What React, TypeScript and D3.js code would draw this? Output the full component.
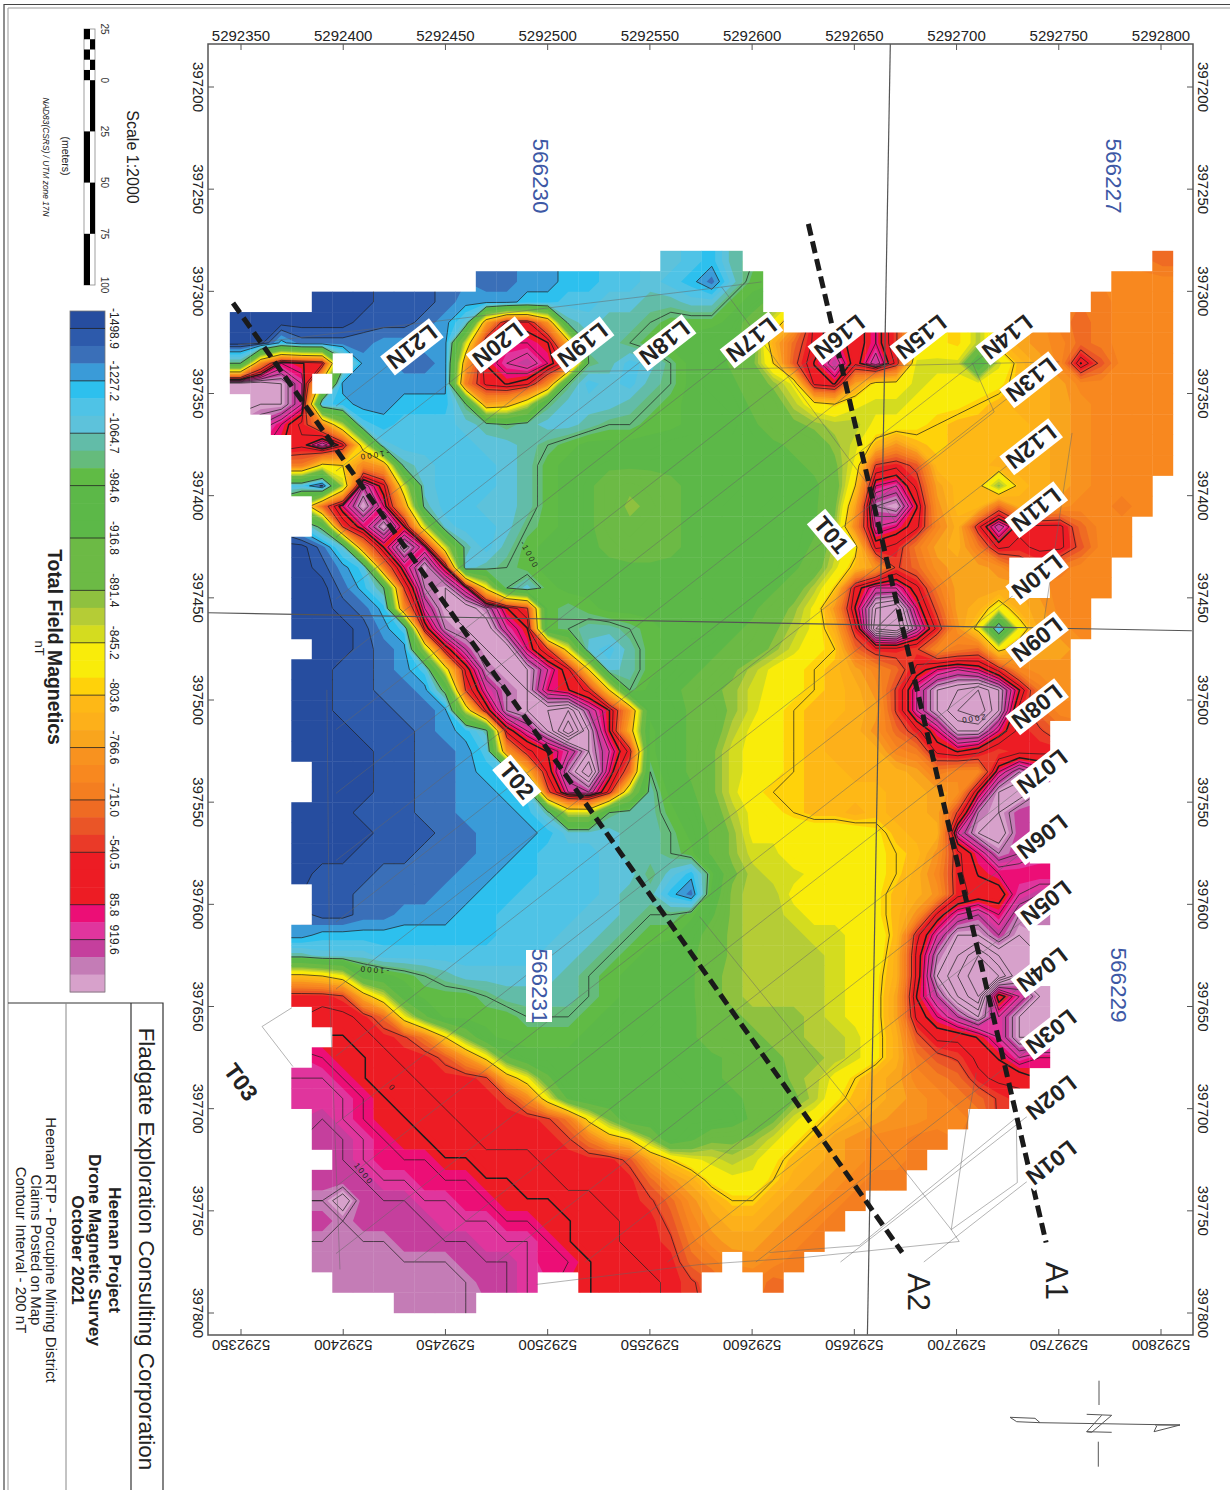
import React, { useMemo } from "react";
import * as d3 from "d3";

const W = 1230;
const H = 1490;
const FONT = "'Liberation Sans', Arial, sans-serif";

// Colour band index per survey cell: 0-9, a-z, A-H = 0..43. "." = no data.
const LEVEL_CODES = "0123456789abcdefghijklmnopqrstuvwxyzABCDEFGHIJ";
const rowStart = [21,12,4,0,0,0,0,1,2,3,3,3,4,4,3,3,3,3,3,4,3,3,3,3,3,4,4,3,3,3,3,4,4,3,3,3,3,4,5,4,3,3,4,4,5,4,4,4,4,4,5,8];
const rowCells = [
  "6547....................s",
  "22334455654269.................qqq",
  "000111233344556677669a................rqqq",
  "00000011123" + "6owwp76778999afj" + "..............srqqq",
  "0042222" + "3333" + "iwyyxn" + "778" + "9" + "aa" + "bce" + "n" + "swywyu" + "lklhmopq" + "srqqq",
  "8qyxw." + "33223" + "oxzAyu" + "87568" + "abdfl" + "txAwAv" + "iii9imoq" + "xtqqq",
  "DDCz." + "333333" + "rwxwq" + "856578" + "abcegj" + "wxokk" + "ijjjkmno" + "qqqqq",
  "CCz5433444" + "8oni8" + "66678" + "9aabdehkljii" + "jkklmnnopqqqq",
  "yvqh5455" + "567876678899" + "aaacefghhjj" + "klmmmmnopqqqq",
  "wAwj6" + "555566789" + "aaaa" + "bbbbb" + "cdegimpmlmmmmnopqqqq",
  "rklqo" + "76555679ab" + "ccccccc" + "bbcdfjuvt" + "mmmnnnopqqqq",
  "51hAwi6" + "555679acefedcccbbbcelyzvommgmnopqqq",
  "syCyo75566" + "79acegfdcc" + "bbabcfoBCx" + "pmmsnopqqr" + "q",
  "9uyCxi6556" + "89acefedcc" + "baabcgqzyw" + "qnvAwwwsqq",
  "026qxCyi75" + "79abcdeedc" + "cbaabdhkwv" + "ronrwvwwtq" + "q",
  "0135ryCx67" + "89abbccccc" + "cbaaceimpu" + "spoop..rqq",
  "00248uBCyk" + "869aabbbbb" + "bbbcehlwzz" + "wrooo..qqq",
  "00124qzCDB" + "xu989aaaaa" + "abcegjpxDE" + "ytonjnoqq",
  "000135wBCD" + "zx98778" + "9aa" + "acdfhjnvEF" + "Avpk4jopq",
  "00123hwACD" + "yuj6579abc" + "degiklsvvu" + "qrsknoo",
  "0011235jwB" + "CCzwl679ac" + "dfhjklmoqs" + "wyzyvqpp",
  "00112239uz" + "BCyxvl8acd" + "fgijklmnpu" + "zCDECxrp",
  "00111223iw" + "BCDEAxpabd" + "egiklmmnou" + "zCEFCvsq",
  "0001112347" + "wzCGCxn9bd" + "ehjklmnnps" + "vyCCyvu",
  "0000112235" + "pvxzCzv9bd" + "fijklmnnnq" + "rwxwuvv",
  "0001122345" + "nwBEys8bdf" + "ijklmmnnno" + "rqqyBz",
  "0001122334" + "5tzAvh7acf" + "ikllmmmmnn" + "opxCD",
  "0001112233" + "347ii8779b" + "ehjklmmnmn" + "nouBCA",
  "0000111223" + "334666778a" + "dgjjjjjjkm" + "nnzCDA",
  "0001112223" + "3455567789" + "dgiikjjjkl" + "mpvyBA",
  "0111222233" + "4455566864" + "9fhiijjjkl" + "nqvxyyy",
  "1122223344" + "555567742a" + "ghhjjjjkmn" + "pvwwzA",
  "1122333445" + "555667889c" + "ghhijjjkmp" + "wzAyBB",
  "3444444444" + "555667899b" + "eghhhiijjm" + "vzCCAC",
  "7666555555" + "5566789abc" + "eghhhhijjn" + "wBDFDC",
  "mljba98766" + "666789abcc" + "fghhhhijkn" + "wCEGFC",
  "vvunib9998" + "777789abcc" + "fghhhhijko" + "xADFwzC",
  "wwvsjd9999" + "8889abbcce" + "fggghijkow" + "yACzCC",
  "xwvurlfa9" + "999abbccce" + "ffgghhiknt" + "wwxzCC",
  "yxxwvvtpkd" + "aaaabbcccc" + "defgghiknr" + "tuwxzy",
  "zzyxwwvvvu" + "njdaaabbbc" + "cddeghjlno" + "qrsvww",
  "zzzyxwwvvv" + "uqjcaaaabb" + "bcdefhkmno" + "pqrsu",
  "Azyxxwwvvv" + "vurkfaaaaa" + "bdfikmnopp" + "qq",
  "AAzyxxwwvv" + "vvurnlgacf" + "fgikmopqqr" + "r",
  "Azyyyxxww" + "wvvvvtolji" + "hikmnopqqr",
  "AAAzzyyyxx" + "wwvvvvspnk" + "jjlnopqrr",
  "BDAAAzzyyx" + "xxwwvvuspn" + "llnopqr",
  "ABAAAAzzzy" + "yxxwwvvtqo" + "nnopqr",
  "BBBBAAAAzz" + "zyxwwvvurp" + "oopqr",
  "BBBBBBBAAA" + "zyyxwwvvsr" + ".pqr",
  "BBBBBBBAAz..xwwwvu...s",
  "BBBB",
];
const GRID_COLS = 46;
const GRID_ROWS = 52;

const bandColors = [
  "#264d9f","#2d5aab","#3a6fb8","#3a9bd8","#2dc0ee","#4fc3e6","#5dc2db","#62bca8","#65bb7c","#60bb45",
  "#5cb848","#5cb848","#5cb848","#6cba45","#6cba45","#6cba45","#8fc13f","#b5cc36","#d4dc1f","#f9ec0a",
  "#f9ec0a","#ffd20a","#feb816","#fdb01a","#f9a51d","#f8921f","#f8881f","#f47e20","#ef6b23","#ea5527",
  "#ea3a28","#ed1c24","#ed1c24","#ed1c24","#ec0e76","#e0359d","#c53f9d","#c47cb6","#d7a1cb",
];
const legendLabels = ["-1498.9","-1227.2","-1064.7","-984.6","-916.8","-891.4","-845.2","-803.6","-766.6","-715.0","-540.5","85.8","919.6"];
const legendLabelBands = [1,4,7,10,13,16,19,22,25,28,31,34,36];
const contourLevels = [0.5,1.5,3.5,8,21,29.7,31.5,32.9,34,35,36,37,38,39,40,41,42,43];
const boldLevels = [32.9];

const northingTicks = [5292350,5292400,5292450,5292500,5292550,5292600,5292650,5292700,5292750,5292800];
const eastingTicks = [397200,397250,397300,397350,397400,397450,397500,397550,397600,397650,397700,397750,397800];

// Survey line labels, in metres: northing-5292000, easting-397000
const lineNames = ["L01N","L02N","L03N","L04N","L05N","L06N","L07N","L08N","L09N","L10N","L11N","L12N","L13N","L14N","L15N","L16N","L17N","L18N","L19N","L20N","L21N"];
const lineNorth = [746.3,746.3,746.3,741.9,743.8,741.9,741.9,739.4,739.4,739.4,739,736.5,736.5,724.8,682.7,642.7,599.7,557.2,517.1,475.6,433.6];
const lineEast = [726.4,694.6,662.3,632,599.2,566.9,535.1,503.3,470.5,439.7,406.9,376.1,343.3,322.3,322.3,322.3,323.8,325.2,326.2,326.2,327.2];

const tieNames = ["T01","T02"];
const tieNorth = [638.8,484.9];
const tieEast = [419.2,539.5];

const profileA1 = [[627.5,267],[743.8,765.5]];
const profileA2 = [[346.1,305.7],[673.4,770.4]];
const claimLines = [
  [[667.6,179],[656.4,810.5]],
  [[333.9,457.3],[815.1,466.1]],
];
const outlines = [
  [[729.2,704.4],[652.4,767],[608.5,770.4]],
  [[729.2,704.4],[729.7,736.2],[697.4,759.2],[701.3,765],[624.6,772.9],[574.3,776.3],[494.6,786]],
  [[675.4,731.3],[697.4,759.2],[704.7,710.2],[709.6,682.4]],
  [[374.9,650.6],[360.3,659.8],[375.4,679.4]],
  [[348.5,326.2],[574.3,299.3],[604.6,295.4]],
  [[460.4,339.9],[574.3,338.4],[750.2,334.5]],
  [[392,495],[393.5,646.6],[398.4,778.7]],
  [[585,297.8],[670.5,413.3]],
  [[574.3,606],[675.4,731.3]],
  [[756.5,369.3],[741.9,467.1]],
  [[707.7,335],[718.4,359],[680.3,388.8]],
];
const contourNotes = [
  { text: "-1000", n: 415, e: 380, rot: 172 },
  { text: "-1000", n: 491, e: 429, rot: 62 },
  { text: "-1000", n: 415, e: 632, rot: 184 },
  { text: "1000", n: 410, e: 732, rot: 52 },
  { text: "2000", n: 708, e: 509, rot: 172 },
  { text: "0", n: 424, e: 690, rot: 50 },
];

const scaleMarks = [0, 25, 50, 75, 100];

const xScale = d3.scaleLinear().domain([5292350, 5292800]).range([241, 1161]);
const yScale = d3.scaleLinear().domain([397200, 397800]).range([87, 1313]);
const mx = (n: number) => xScale(5292000 + n);
const my = (e: number) => yScale(397000 + e);
const gridX = d3.scaleLinear().domain([0, GRID_COLS]).range([230, 1173]);
const gridY = d3.scaleLinear().domain([0, GRID_ROWS]).range([251, 1313]);
const legendY = d3.scaleLinear().domain([0, bandColors.length]).range([311, 992]);
const barY = d3.scaleLinear().domain([-25, 100]).range([29, 285]);

function buildGrid() {
  const pad = 1;
  const w = GRID_COLS + pad * 2;
  const h = GRID_ROWS + pad * 2;
  let vals: (number | null)[] = new Array(w * h).fill(null);
  const cells: [number, number][] = [];
  rowCells.forEach((str, r) => {
    for (let k = 0; k < str.length; k++) {
      const c = rowStart[r] + k;
      if (str[k] === "." || c >= GRID_COLS) continue;
      vals[(r + pad) * w + c + pad] = LEVEL_CODES.indexOf(str[k]);
      cells.push([c, r]);
    }
  });
  // no-data cells borrow their neighbours' value; they stay hidden behind the clip
  let missing = true;
  while (missing) {
    missing = false;
    const next = vals.slice();
    for (let j = 0; j < h; j++)
      for (let i = 0; i < w; i++) {
        if (vals[j * w + i] !== null) continue;
        const around: number[] = [];
        [[1, 0], [-1, 0], [0, 1], [0, -1]].forEach(([a, b]) => {
          const x = i + a, y = j + b;
          if (x >= 0 && x < w && y >= 0 && y < h && vals[y * w + x] !== null) around.push(vals[y * w + x] as number);
        });
        if (around.length) next[j * w + i] = d3.mean(around) as number;
        else missing = true;
      }
    vals = next;
  }
  return { values: vals as number[], w, h, pad, cells };
}

function Rot({ x, y, size, children, bold, fill = "#222", rot = 90, italic, style }: any) {
  return (
    <text
      x={x}
      y={y}
      transform={`rotate(${rot} ${x} ${y})`}
      textAnchor="middle"
      dominantBaseline="central"
      fontSize={size}
      fontWeight={bold ? 700 : 400}
      fontStyle={italic ? "italic" : "normal"}
      fill={fill}
      style={style}
    >
      {children}
    </text>
  );
}

export default function App() {
  const { fills, lines, cells } = useMemo(() => {
    const { values, w, h, pad, cells } = buildGrid();
    const path = d3.geoPath(
      d3.geoTransform({
        point(this: any, x: number, y: number) {
          this.stream.point(gridX(x - pad), gridY(y - pad));
        },
      })
    );
    const gen = d3.contours().size([w, h]).smooth(true);
    const fills = bandColors.map((c, k) => ({
      color: c,
      d: path(gen.contour(values, k === 0 ? -1 : k - 0.5) as any) || "",
    }));
    const lines = contourLevels.map((lv) => ({
      level: lv,
      d: path(gen.contour(values, lv) as any) || "",
    }));
    return { fills, lines, cells };
  }, []);

  const line = d3.line<number[]>().x((p) => mx(p[0])).y((p) => my(p[1]));
  const FLIGHT_SLOPE = 0.78;
  const flightEnd = (x0: number, y0: number) => {
    let x = 336;
    let y = y0 + FLIGHT_SLOPE * (x0 - x);
    if (y > 1262) {
      y = 1262;
      x = x0 - (y - y0) / FLIGHT_SLOPE;
    }
    return [x, y];
  };

  return (
    <svg
      width={W}
      height={H}
      viewBox={`0 0 ${W} ${H}`}
      style={{ position: "absolute", left: 0, top: 0, background: "#fff", fontFamily: FONT }}
    >
      <defs>
        <clipPath id="surveyCells">
          {cells.map(([c, r], i) => (
            <rect key={i} x={gridX(c) - 0.2} y={gridY(r) - 0.2} width={gridX(1) - gridX(0) + 0.4} height={gridY(1) - gridY(0) + 0.4} />
          ))}
        </clipPath>
      </defs>

      {/* page frame */}
      <path d="M1230 4.5 H4 V1490" fill="none" stroke="#444" strokeWidth={1.2} />
      <path d="M1230 8 H8 V1490" fill="none" stroke="#999" strokeWidth={1} />

      {/* map */}
      <g clipPath="url(#surveyCells)">
        {fills.map((f, i) => (
          <path key={i} d={f.d} fill={f.color} />
        ))}
        {lines.map((l, i) => (
          <path key={i} d={l.d} fill="none" stroke="#1c1c1c" strokeWidth={boldLevels.includes(l.level) ? 1.5 : 0.7} strokeLinejoin="round" />
        ))}
      </g>

      {/* flight lines */}
      <g stroke="#666" strokeOpacity={0.55} strokeWidth={0.9} fill="none">
        {lineNames.map((n, i) => {
          const x0 = mx(lineNorth[i]);
          const y0 = my(lineEast[i]);
          const [x1, y1] = flightEnd(x0, y0);
          return <line key={n} x1={x0} y1={y0} x2={x1} y2={y1} />;
        })}
        {outlines.map((o, i) => (
          <path key={i} d={line(o) || ""} />
        ))}
      </g>

      {/* claim lines */}
      <g stroke="#555" strokeWidth={1.2} fill="none">
        {claimLines.map((o, i) => (
          <path key={i} d={line(o) || ""} />
        ))}
      </g>

      {/* contour notes */}
      {contourNotes.map((c, i) => (
        <Rot key={i} x={mx(c.n)} y={my(c.e)} size={8} rot={c.rot} fill="#222" style={{ letterSpacing: 2 }}>
          {c.text}
        </Rot>
      ))}

      {/* profiles */}
      <g stroke="#1a1a1a" strokeWidth={5} strokeDasharray="12 6" fill="none">
        <path d={line(profileA1) || ""} />
        <path d={line(profileA2) || ""} />
      </g>

      {/* line labels */}
      {lineNames.map((n, i) => {
        const x0 = mx(lineNorth[i]);
        const y0 = my(lineEast[i]);
        return (
          <g key={n} transform={`translate(${x0} ${y0}) rotate(142)`}>
            <rect x={-31} y={-12} width={62} height={24} fill="#fff" />
            <text textAnchor="middle" dominantBaseline="central" fontSize={23} fontWeight={700} fill="#222">
              {n}
            </text>
          </g>
        );
      })}
      {tieNames.map((n, i) => (
        <g key={n} transform={`translate(${mx(tieNorth[i])} ${my(tieEast[i])}) rotate(50)`}>
          <rect x={-24} y={-12} width={48} height={24} fill="#fff" />
          <text textAnchor="middle" dominantBaseline="central" fontSize={23} fontWeight={700} fill="#222">
            {n}
          </text>
        </g>
      ))}
      <Rot x={241} y={1082} size={23} bold rot={54}>T03</Rot>
      <Rot x={1056} y={1281} size={31}>A1</Rot>
      <Rot x={918} y={1292} size={31}>A2</Rot>

      <Rot x={540} y={176} size={22.5} fill="#3d58a5">566230</Rot>
      <Rot x={1113} y={176} size={22.5} fill="#3d58a5">566227</Rot>
      <Rot x={1118} y={985} size={22.5} fill="#3d58a5">566229</Rot>
      <rect x={526} y={950} width={26} height={72} fill="#fff" />
      <Rot x={539} y={986} size={22.5} fill="#3d58a5">566231</Rot>

      {/* axes */}
      <rect x={208} y={44} width={985} height={1291} fill="none" stroke="#555" strokeWidth={1.5} />
      <g stroke="#555" strokeWidth={1}>
        {northingTicks.map((t) => (
          <g key={t}>
            <line x1={xScale(t)} x2={xScale(t)} y1={44} y2={50} />
            <line x1={xScale(t)} x2={xScale(t)} y1={1335} y2={1329} />
          </g>
        ))}
        {eastingTicks.map((t) => (
          <g key={t}>
            <line y1={yScale(t)} y2={yScale(t)} x1={208} x2={214} />
            <line y1={yScale(t)} y2={yScale(t)} x1={1193} x2={1187} />
          </g>
        ))}
      </g>
      {northingTicks.map((t) => (
        <g key={t}>
          <Rot x={xScale(t)} y={35} size={15} rot={0}>{t}</Rot>
          <Rot x={xScale(t)} y={1345} size={15} rot={180}>{t}</Rot>
        </g>
      ))}
      {eastingTicks.map((t) => (
        <g key={t}>
          <Rot x={198} y={yScale(t)} size={15}>{t}</Rot>
          <Rot x={1203} y={yScale(t)} size={15}>{t}</Rot>
        </g>
      ))}

      {/* scale bar */}
      <g>
        <rect x={84} y={barY(-25)} width={11} height={barY(100) - barY(-25)} fill="#fff" stroke="#888" strokeWidth={0.8} />
        {scaleMarks.slice(0, 4).map((m, i) => (
          <rect key={m} x={i % 2 === 0 ? 90 : 84} y={barY(m)} width={i % 2 === 0 ? 5 : 6} height={barY(25) - barY(0)} fill="#000" />
        ))}
        {[-25, -20, -15, -10, -5].map((m, i) => (
          <rect key={m} x={i % 2 === 0 ? 84 : 90} y={barY(m)} width={i % 2 === 0 ? 6 : 5} height={barY(-20) - barY(-25)} fill="#000" />
        ))}
        {[-25, ...scaleMarks].map((m) => (
          <Rot key={m} x={104} y={barY(m)} size={10} fill="#333">{Math.abs(m)}</Rot>
        ))}
      </g>
      <Rot x={132} y={157} size={16}>Scale 1:2000</Rot>
      <Rot x={66} y={156} size={10.5}>(meters)</Rot>
      <Rot x={46} y={157} size={8.4} italic>NAD83(CSRS) / UTM zone 17N</Rot>

      {/* legend */}
      {bandColors.map((c, i) => (
        <rect key={i} x={70} y={legendY(i)} width={35} height={legendY(1) - legendY(0) + 0.5} fill={c} />
      ))}
      <rect x={70} y={311} width={35} height={681} fill="none" stroke="#777" strokeWidth={0.8} />
      {legendLabels.map((l, i) => {
        const y = legendY(legendLabelBands[i]);
        return (
          <g key={l}>
            <line x1={70} x2={105} y1={y} y2={y} stroke="#222" strokeWidth={0.8} />
            <Rot x={114} y={y} size={12}>{l}</Rot>
          </g>
        );
      })}
      <Rot x={55} y={647} size={19.4} bold>Total Field Magnetics</Rot>
      <Rot x={39} y={648} size={13}>nT</Rot>

      {/* title block */}
      <g fill="none">
        <path d="M8 1003 H163 V1490" stroke="#333" strokeWidth={1.2} />
        <line x1={131} x2={131} y1={1003} y2={1490} stroke="#333" strokeWidth={1.2} />
        <line x1={66} x2={66} y1={1003} y2={1490} stroke="#888" strokeWidth={1} />
      </g>
      <Rot x={146} y={1249} size={22.5}>Fladgate Exploration Consulting Corporation</Rot>
      <Rot x={115} y={1250} size={17.3} bold>Heenan Project</Rot>
      <Rot x={95} y={1250} size={17.3} bold>Drone Magnetic Survey</Rot>
      <Rot x={78} y={1250} size={17.3} bold>October 2021</Rot>
      <Rot x={51} y={1250} size={15}>Heenan RTP - Porcupine Mining District</Rot>
      <Rot x={36} y={1250} size={15}>Claims Posted on Map</Rot>
      <Rot x={21} y={1250} size={15}>Contour Interval - 200 nT</Rot>

      {/* north arrow */}
      <g fill="none" stroke="#555" strokeWidth={1}>
        <path d="M1010 1417.3 L1035 1418.3 L1040 1422.7 L1016.7 1421.7 Z" />
        <path d="M1040 1422.7 L1180 1425" />
        <path d="M1155 1425 L1180 1425 L1154 1431.7 L1156.7 1426" />
        <path d="M1086.7 1414.3 L1111.7 1415.3 L1091.7 1432.3 L1086.7 1431.7 L1111.7 1432.3 M1101.7 1415.3 L1086.7 1431.7" />
        <path d="M1099 1380.7 V1405 M1098.3 1441.7 V1466.7" />
      </g>
    </svg>
  );
}
